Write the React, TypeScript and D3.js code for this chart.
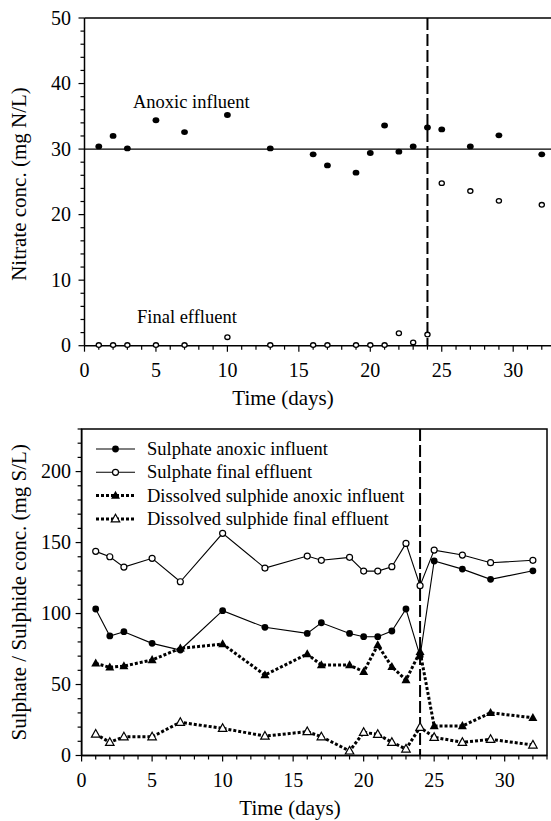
import React from "react";
import * as d3 from "d3";

const days = [1, 2, 3, 5, 7, 10, 13, 16, 17, 19, 20, 21, 22, 23, 24, 25, 27, 29, 32];
const nitrateInfluent = [30.4, 32.0, 30.1, 34.4, 32.6, 35.2, 30.1, 29.2, 27.5, 26.4, 29.4, 33.6, 29.6, 30.4, 33.3, 33.0, 30.4, 32.1, 29.2];
const nitrateEffluent = [0.1, 0.1, 0.1, 0.1, 0.1, 1.3, 0.1, 0.1, 0.1, 0.1, 0.1, 0.1, 1.9, 0.5, 1.7, 24.8, 23.6, 22.1, 21.5];

const sulphateInfluent = [103.2, 84.2, 87.2, 79, 74.3, 102, 90.3, 86, 93.5, 86, 83.7, 83.7, 87.7, 103.2, 70, 137, 131.3, 124.1, 130.1];
const sulphateEffluent = [143.8, 140, 132.7, 138.9, 122.4, 156.5, 132, 140.5, 137.5, 139.6, 129.9, 129.9, 133, 149.4, 119.6, 144.7, 141.2, 135.8, 137.5];
const sulphideInfluent = [64.9, 62.1, 63, 67.3, 75.5, 78.5, 56.7, 71.5, 63.7, 63.7, 59, 77.8, 62.5, 53.2, 73.1, 20.8, 20.8, 30.1, 26.6];
const sulphideEffluent = [15.1, 9.3, 13.2, 13.2, 23.4, 19.1, 13.7, 16.8, 13.2, 3.2, 16.3, 14.9, 9.3, 4.6, 19.8, 12.8, 9.3, 11.4, 7.4];

const xTicksMajor = [0, 5, 10, 15, 20, 25, 30];
const topYTicks = [0, 10, 20, 30, 40, 50];
const bottomYTicks = [0, 50, 100, 150, 200];
const changeDay = 24;
const refLevel = 30;

const legendItems = [
  "Sulphate anoxic influent",
  "Sulphate final effluent",
  "Dissolved sulphide anoxic influent",
  "Dissolved sulphide final effluent",
];

const FONT = '"Liberation Serif", Tinos, "Times New Roman", Times, "DejaVu Serif", serif';
const FS = 18.5;
const FT = 20;
const FA = 21;

function tri(cx: number, cy: number, s: number) {
  const h = s * 0.9;
  return `M${cx},${cy - h * 0.6} L${cx + s / 2},${cy + h * 0.4} L${cx - s / 2},${cy + h * 0.4} Z`;
}

const T = (props: any) => <text {...props} style={{ fontFamily: FONT }} />;

export default function App() {
  const xT = d3.scaleLinear().domain([0, 33]).range([84.5, 84.5 + 33 * 14.29]);
  const yT = d3.scaleLinear().domain([0, 50]).range([345.7, 18]);
  const xB = d3.scaleLinear().domain([0, 33]).range([81.6, 547]);
  const yB = d3.scaleLinear().domain([0, 230]).range([755.5, 429]);

  const minorX = d3.range(0, 34, 1);
  const minorYT = d3.range(0, 51, 2);
  const minorYB = d3.range(0, 231, 10);

  const line = (ys: number[]) =>
    d3
      .line<number>()
      .x((_, i) => xB(days[i]))
      .y((v) => yB(v))(ys) as string;

  const xAxis = (x: d3.ScaleLinear<number, number>, y0: number, key: string, x1: number) => (
    <g key={key}>
      <line x1={x.range()[0]} x2={x1} y1={y0} y2={y0} stroke="#000" strokeWidth={1.5} />
      {minorX.map((t) => (
        <line key={t} x1={x(t)} x2={x(t)} y1={y0} y2={y0 + (t % 5 === 0 ? 6 : 4)} stroke="#000" strokeWidth={1.2} />
      ))}
      {xTicksMajor.map((t) => (
        <T key={"l" + t} x={x(t)} y={y0 + 31} textAnchor="middle" fontSize={FT}>
          {t}
        </T>
      ))}
    </g>
  );

  const yAxis = (
    y: d3.ScaleLinear<number, number>,
    x0: number,
    major: number[],
    minor: number[],
    step: number,
    key: string
  ) => (
    <g key={key}>
      <line x1={x0} x2={x0} y1={y.range()[0]} y2={y.range()[1]} stroke="#000" strokeWidth={1.5} />
      {minor.map((t) => (
        <line key={t} x1={x0} x2={x0 - (t % step === 0 ? 6 : 4)} y1={y(t)} y2={y(t)} stroke="#000" strokeWidth={1.2} />
      ))}
      {major.map((t) => (
        <T key={"l" + t} x={71} y={y(t) + 6.5} textAnchor="end" fontSize={FT}>
          {t}
        </T>
      ))}
    </g>
  );

  return (
    <svg width={551} height={821} style={{ position: "absolute", left: 0, top: 0, background: "#fff" }}>
      <rect x={0} y={0} width={551} height={821} fill="#fff" />
      {/* ---------- TOP CHART ---------- */}
      <line x1={xT(0)} x2={551} y1={yT(50)} y2={yT(50)} stroke="#000" strokeWidth={1.5} />
      <line x1={xT(0)} x2={551} y1={yT(refLevel)} y2={yT(refLevel)} stroke="#000" strokeWidth={1.3} />
      <line
        x1={xT(changeDay)}
        x2={xT(changeDay)}
        y1={yT(50)}
        y2={yT(0)}
        stroke="#000"
        strokeWidth={2}
        strokeDasharray="12,4"
      />
      {xAxis(xT, yT(0), "xt", 551)}
      {yAxis(yT, xT(0), topYTicks, minorYT, 10, "yt")}
      {days.map((d, i) => (
        <ellipse key={"ni" + i} cx={xT(d)} cy={yT(nitrateInfluent[i])} rx={3.4} ry={2.9} fill="#000" />
      ))}
      {days.map((d, i) => (
        <ellipse
          key={"ne" + i}
          cx={xT(d)}
          cy={yT(nitrateEffluent[i])}
          rx={2.6}
          ry={2.3}
          fill="#fff"
          stroke="#000"
          strokeWidth={1.3}
        />
      ))}
      <T x={133} y={108} fontSize={FS}>
        Anoxic influent
      </T>
      <T x={137} y={323} fontSize={FS}>
        Final effluent
      </T>
      <T x={283} y={405} textAnchor="middle" fontSize={FA}>
        Time (days)
      </T>
      <T transform={`translate(26,184) rotate(-90)`} textAnchor="middle" fontSize={FA}>
        Nitrate conc. (mg N/L)
      </T>

      {/* ---------- BOTTOM CHART ---------- */}
      <rect
        x={xB(0)}
        y={yB(230)}
        width={xB(33) - xB(0)}
        height={yB(0) - yB(230)}
        fill="none"
        stroke="#000"
        strokeWidth={1.5}
      />
      <line
        x1={xB(changeDay)}
        x2={xB(changeDay)}
        y1={yB(230)}
        y2={yB(0)}
        stroke="#000"
        strokeWidth={2}
        strokeDasharray="12,4"
      />
      {xAxis(xB, yB(0), "xb", xB(33))}
      {yAxis(yB, xB(0), bottomYTicks, minorYB, 50, "yb")}

      <path d={line(sulphateEffluent)} fill="none" stroke="#000" strokeWidth={1.1} />
      <path d={line(sulphateInfluent)} fill="none" stroke="#000" strokeWidth={1.1} />
      <path d={line(sulphideInfluent)} fill="none" stroke="#000" strokeWidth={3} strokeDasharray="3,2" />
      <path d={line(sulphideEffluent)} fill="none" stroke="#000" strokeWidth={3} strokeDasharray="3,2" />

      {days.map((d, i) => (
        <circle key={"se" + i} cx={xB(d)} cy={yB(sulphateEffluent[i])} r={3} fill="#fff" stroke="#000" strokeWidth={1.2} />
      ))}
      {days.map((d, i) => (
        <circle key={"si" + i} cx={xB(d)} cy={yB(sulphateInfluent[i])} r={3.4} fill="#000" />
      ))}
      {days.map((d, i) => (
        <path key={"di" + i} d={tri(xB(d), yB(sulphideInfluent[i]), 9)} fill="#000" />
      ))}
      {days.map((d, i) => (
        <path
          key={"de" + i}
          d={tri(xB(d), yB(sulphideEffluent[i]), 8.5)}
          fill="#fff"
          stroke="#000"
          strokeWidth={1.2}
        />
      ))}

      {legendItems.map((name, i) => {
        const cy = 449 + i * 23.3;
        const dotted = i >= 2;
        const filled = i % 2 === 0;
        return (
          <g key={name}>
            <line
              x1={96}
              x2={135}
              y1={cy}
              y2={cy}
              stroke="#000"
              strokeWidth={dotted ? 3 : 1.1}
              strokeDasharray={dotted ? "3,2" : undefined}
            />
            {dotted ? (
              <path
                d={tri(115.5, cy, filled ? 9 : 8.5)}
                fill={filled ? "#000" : "#fff"}
                stroke={filled ? "none" : "#000"}
                strokeWidth={1.2}
              />
            ) : filled ? (
              <circle cx={115.5} cy={cy} r={3.4} fill="#000" />
            ) : (
              <circle cx={115.5} cy={cy} r={3} fill="#fff" stroke="#000" strokeWidth={1.2} />
            )}
            <T x={147} y={cy + 6} fontSize={FS}>
              {name}
            </T>
          </g>
        );
      })}

      <T x={290} y={815} textAnchor="middle" fontSize={FA}>
        Time (days)
      </T>
      <T transform={`translate(26,${(yB(0) + yB(230)) / 2}) rotate(-90)`} textAnchor="middle" fontSize={FA}>
        Sulphate / Sulphide conc. (mg S/L)
      </T>
    </svg>
  );
}
